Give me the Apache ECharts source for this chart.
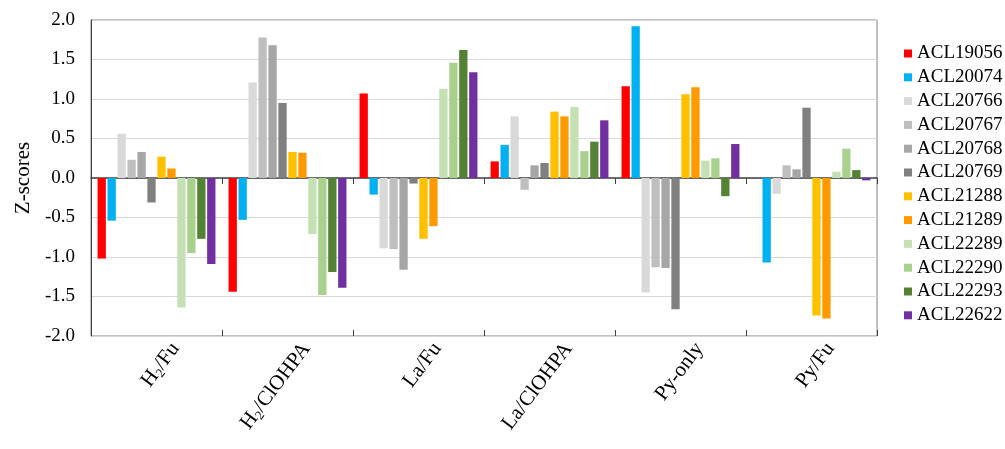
<!DOCTYPE html>
<html>
<head>
<meta charset="utf-8">
<script src="https://cdn.jsdelivr.net/npm/echarts@6/dist/echarts.min.js"></script>
<style>
    html, body { margin: 0; padding: 0; background: #fff; }
    #chart { width: 1005px; height: 449px; }
</style>
</head>
<body>
<div id="chart"></div>
<script>
// ==================
// DATA
// ==================

const categories = ['H2/Fu', 'H2/ClOHPA', 'La/Fu', 'La/ClOHPA', 'Py-only', 'Py/Fu'];
const yTicks = [-2.0, -1.5, -1.0, -0.5, 0.0, 0.5, 1.0, 1.5, 2.0];

const acl19056 = [-1.02, -1.44, 1.07, 0.21, 1.16, 0.00];
const acl20074 = [-0.54, -0.53, -0.21, 0.42, 1.92, -1.07];
const acl20766 = [0.56, 1.21, -0.89, 0.78, -1.45, -0.20];
const acl20767 = [0.23, 1.78, -0.90, -0.15, -1.13, 0.16];
const acl20768 = [0.33, 1.68, -1.16, 0.16, -1.14, 0.11];
const acl20769 = [-0.31, 0.95, -0.07, 0.19, -1.66, 0.89];
const acl21288 = [0.27, 0.33, -0.77, 0.84, 1.06, -1.74];
const acl21289 = [0.12, 0.32, -0.61, 0.78, 1.15, -1.78];
const acl22289 = [-1.64, -0.71, 1.13, 0.90, 0.22, 0.08];
const acl22290 = [-0.95, -1.48, 1.46, 0.34, 0.25, 0.37];
const acl22293 = [-0.77, -1.19, 1.62, 0.46, -0.23, 0.10];
const acl22622 = [-1.09, -1.39, 1.34, 0.73, 0.43, -0.03];

// ==================
// CONFIG
// ==================

const font = '"Liberation Serif", "Times New Roman", serif';

const seriesConfig = [
    { name: 'ACL19056', data: acl19056, color: '#ff0000' },
    { name: 'ACL20074', data: acl20074, color: '#00b0f0' },
    { name: 'ACL20766', data: acl20766, color: '#d9d9d9' },
    { name: 'ACL20767', data: acl20767, color: '#bfbfbf' },
    { name: 'ACL20768', data: acl20768, color: '#a6a6a6' },
    { name: 'ACL20769', data: acl20769, color: '#808080' },
    { name: 'ACL21288', data: acl21288, color: '#ffc000' },
    { name: 'ACL21289', data: acl21289, color: '#ff9900' },
    { name: 'ACL22289', data: acl22289, color: '#c5e0b4' },
    { name: 'ACL22290', data: acl22290, color: '#a9d18e' },
    { name: 'ACL22293', data: acl22293, color: '#548235' },
    { name: 'ACL22622', data: acl22622, color: '#7030a0' }
];

// ==================
// CHART
// ==================

const chart = echarts.init(document.getElementById('chart'));

const series = seriesConfig.map(s => ({
    name: s.name,
    type: 'bar',
    data: s.data,
    barCategoryGap: '10%',
    barGap: '20%',
    itemStyle: { color: s.color },
    emphasis: { disabled: true }
}));

const xLabel = {
    rotate: 53,
    margin: 9,
    color: '#000',
    fontSize: 21,
    fontFamily: font,
    formatter: v => v.replace('H2', 'H{sub|2}'),
    rich: {
        sub: { fontSize: 13, fontFamily: font, color: '#000', padding: [11, 0, 0, 0] }
    }
};

const option = {
    animation: false,
    grid: [
        {
            left: 91,
            right: 128,
            top: 20,
            bottom: 113,
            show: true,
            borderColor: '#808080',
            borderWidth: 1
        },
        // label-only grid, shifted right like the original's rotated labels
        { left: 110, right: 109, top: 20, bottom: 113 }
    ],
    legend: {
        orient: 'vertical',
        left: 899,
        top: 39,
        itemWidth: 8,
        itemHeight: 8,
        itemGap: 4.8,
        icon: 'rect',
        textStyle: { color: '#000', fontSize: 19, lineHeight: 18, fontFamily: font },
        data: seriesConfig.map(s => s.name)
    },
    xAxis: [
        {
            type: 'category',
            data: categories,
            axisLine: { onZero: true, lineStyle: { color: '#404040', width: 1.5 } },
            axisTick: { show: true, length: 6, lineStyle: { color: '#404040' } },
            axisLabel: { show: false }
        },
        {
            type: 'category',
            data: categories,
            position: 'bottom',
            axisLine: { onZero: true, show: false },
            axisTick: { show: true, inside: true, length: 6, lineStyle: { color: '#404040' } },
            axisLabel: { show: false }
        },
        {
            type: 'category',
            gridIndex: 1,
            data: categories,
            position: 'bottom',
            axisLine: { onZero: false, show: false },
            axisTick: { show: false },
            axisLabel: xLabel
        }
    ],
    yAxis: [
        {
            type: 'value',
            min: yTicks[0],
            max: yTicks[yTicks.length - 1],
            interval: 0.5,
            name: 'Z-scores',
            nameLocation: 'middle',
            nameGap: 52,
            nameTextStyle: { color: '#000', fontSize: 21, fontFamily: font },
            axisLine: { show: true, lineStyle: { color: '#404040' } },
            axisTick: { show: false },
            axisLabel: {
                color: '#000',
                fontSize: 19,
                fontFamily: font,
                margin: 16,
                formatter: v => v.toFixed(1)
            },
            splitLine: { show: true, lineStyle: { color: '#d9d9d9', width: 1 } }
        },
        {
            type: 'value',
            gridIndex: 1,
            show: false
        }
    ],
    series: series
};

chart.setOption(option);
</script>
</body>
</html>
